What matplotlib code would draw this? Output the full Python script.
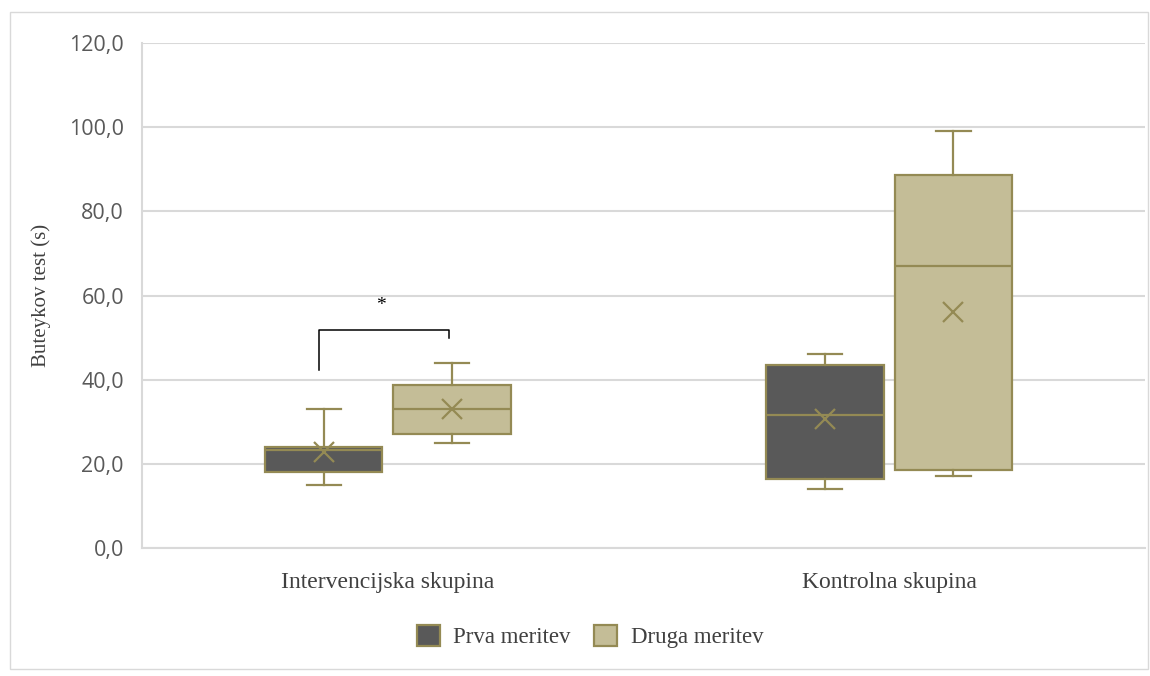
import matplotlib.pyplot as plt
from matplotlib.patches import Rectangle, Patch

groups = ['Intervencijska skupina', 'Kontrolna skupina']
series = ['Prva meritev', 'Druga meritev']

# five-number summaries + mean, per series, per group
whislo = {'Prva meritev': [15.0, 14.0], 'Druga meritev': [25.0, 17.0]}
q1 = {'Prva meritev': [18.0, 16.4], 'Druga meritev': [27.0, 18.5]}
med = {'Prva meritev': [23.2, 31.5], 'Druga meritev': [33.0, 67.0]}
q3 = {'Prva meritev': [24.0, 43.5], 'Druga meritev': [38.7, 88.7]}
whishi = {'Prva meritev': [33.0, 46.0], 'Druga meritev': [44.0, 99.0]}
mean = {'Prva meritev': [22.7, 30.6], 'Druga meritev': [33.0, 56.1]}

yticks = [0, 20, 40, 60, 80, 100, 120]
ytick_labels = ['0,0', '20,0', '40,0', '60,0', '80,0', '100,0', '120,0']

fills = {'Prva meritev': '#595959', 'Druga meritev': '#c4bd97'}
edge = '#948a54'
offsets = {'Prva meritev': -0.128, 'Druga meritev': 0.128}

fig = plt.figure(figsize=(11.5, 6.76), dpi=100)
ax = fig.add_axes([0.1235, 0.1893, 0.8722, 0.7471])

for s in series:
    stats = []
    for i in range(len(groups)):
        stats.append(dict(whislo=whislo[s][i], q1=q1[s][i], med=med[s][i],
                          q3=q3[s][i], whishi=whishi[s][i], mean=mean[s][i], fliers=[]))
    pos = [i + offsets[s] for i in range(len(groups))]
    ax.bxp(stats, positions=pos, widths=0.234, capwidths=0.068, patch_artist=True,
           showmeans=True, manage_ticks=False,
           boxprops=dict(facecolor=fills[s], edgecolor=edge, linewidth=1.6),
           medianprops=dict(color=edge, linewidth=1.6),
           whiskerprops=dict(color=edge, linewidth=1.6),
           capprops=dict(color=edge, linewidth=1.6),
           meanprops=dict(marker='x', markeredgecolor=edge, markersize=14,
                          markeredgewidth=1.6))

# significance bracket
ax.plot([-0.137, -0.137, 0.123, 0.123], [42.3, 51.8, 51.8, 49.9], color='black', lw=1.1)
ax.text(-0.013, 55.5, '*', ha='center', va='bottom', fontsize=14, family='Liberation Serif')

ax.set_xlim(-0.49, 1.51)
ax.set_ylim(0, 120)
ax.set_yticks(yticks)
ax.set_yticklabels(ytick_labels, fontsize=15.5, color='#595959', family='Open Sans')
ax.set_xticks(range(len(groups)))
ax.set_xticklabels(groups, fontsize=17, color='#404040', family='Liberation Serif')
ax.tick_params(axis='both', length=0)
ax.tick_params(axis='y', pad=13)
ax.tick_params(axis='x', pad=17)
ax.grid(axis='y', color='#d9d9d9', lw=1.5)
ax.set_axisbelow(True)
for side in ['top', 'right']:
    ax.spines[side].set_visible(False)
ax.spines['left'].set_color('#d9d9d9')
ax.spines['bottom'].set_color('#d9d9d9')
ax.spines['left'].set_linewidth(1.5)
ax.spines['bottom'].set_linewidth(1.5)
ax.set_ylabel('Buteykov test (s)', fontsize=15, color='#404040', family='Liberation Serif',
              labelpad=13)

handles = [Patch(facecolor=fills[s], edgecolor=edge, linewidth=1.6) for s in series]
fig.legend(handles, series, loc='center', bbox_to_anchor=(0.513, 0.058), ncol=2,
           frameon=False, prop={'family': 'Liberation Serif', 'size': 16.5},
           handlelength=1.0, handleheight=1.0, columnspacing=1.0, handletextpad=0.6,
           labelcolor='#404040')

fig.patches.append(Rectangle((10 / 1150, 1 - 669 / 676), 1138 / 1150, 657 / 676,
                             transform=fig.transFigure, fill=False,
                             edgecolor='#d9d9d9', lw=1))

fig.savefig('out.png', dpi=100)
